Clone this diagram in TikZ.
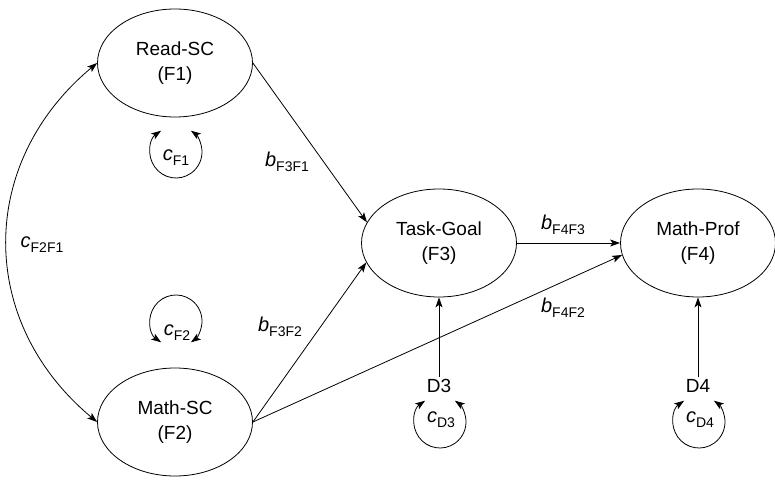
\documentclass[tikz,border=0pt]{standalone}
\usepackage{fontspec}
\setmainfont{Liberation Sans}
\usetikzlibrary{arrows.meta,shapes.geometric}
% coefficient label: italic letter with an upright subscript
\newcommand\pathlbl[2]{{\fontsize{20}{20}\selectfont\itshape #1}\raisebox{-5pt}{\fontsize{14}{14}\selectfont #2}}
\begin{document}
\begin{tikzpicture}[x=1pt,y=1pt,
  factor/.style={draw, ellipse, line width=0.8pt, minimum width=155pt,
    minimum height=108pt, inner sep=0pt, align=center,
    font=\fontsize{19}{25}\selectfont},
  obs/.style={inner sep=2pt, font=\fontsize{19}{22}\selectfont},
  lbl/.style={inner sep=0pt},
  arr/.style={line width=0.8pt, -{Stealth[length=10pt,width=7pt,inset=2.5pt]}},
  arrtwo/.style={line width=0.8pt, {Stealth[length=10pt,width=7pt,inset=2.5pt]}-{Stealth[length=10pt,width=7pt,inset=2.5pt]}}
]
\useasboundingbox (0,0) rectangle (775,479);

% latent factors
\node[factor] (F1) at (175,416) {Read-SC\\(F1)};
\node[factor] (F2) at (175,57)  {Math-SC\\(F2)};
\node[factor] (F3) at (439,236) {Task-Goal\\(F3)};
\node[factor] (F4) at (698,236) {Math-Prof\\(F4)};

% disturbances
\node[obs] (D3) at (439,93) {D3};
\node[obs] (D4) at (698,93) {D4};

% structural paths
\draw[arr] (F1.east) -- (F3.164);
\draw[arr] (F2.east) -- (F3.195);
\draw[arr] (F2.east) -- (F4.189);
\draw[arr] (F3) -- (F4);
\draw[arr] (D3) -- (F3);
\draw[arr] (D4) -- (F4);

% covariance between the exogenous factors
\draw[arrtwo] (F1.west) .. controls (-23,316) and (-23,157) .. (F2.west);

% path labels
\node[lbl] (bF3F1) at (287,317) {\pathlbl{b}{F3F1}};
\node[lbl] (bF3F2) at (280,152) {\pathlbl{b}{F3F2}};
\node[lbl] (bF4F3) at (563,254) {\pathlbl{b}{F4F3}};
\node[lbl] (bF4F2) at (563,171) {\pathlbl{b}{F4F2}};
\node[lbl] (cF2F1) at (42,234)  {\pathlbl{c}{F2F1}};

% variance loops
\coordinate (lF1) at (176,327);
\coordinate (lF2) at (176,158);
\coordinate (lD3) at (440,57);
\coordinate (lD4) at (699,57);
\draw[arrtwo] (lF1) ++(125:26pt) arc[start angle=125, end angle=415, radius=26pt];
\draw[arrtwo] (lF2) ++(235:26pt) arc[start angle=235, end angle=-55, radius=26pt];
\draw[arrtwo] (lD3) ++(125:26pt) arc[start angle=125, end angle=415, radius=26pt];
\draw[arrtwo] (lD4) ++(125:26pt) arc[start angle=125, end angle=415, radius=26pt];
\node[lbl] (cF1) at (176,321) {\pathlbl{c}{F1}};
\node[lbl] (cF2) at (177,146) {\pathlbl{c}{F2}};
\node[lbl] (cD3) at (441,59)  {\pathlbl{c}{D3}};
\node[lbl] (cD4) at (700,59)  {\pathlbl{c}{D4}};
\end{tikzpicture}
\end{document}
